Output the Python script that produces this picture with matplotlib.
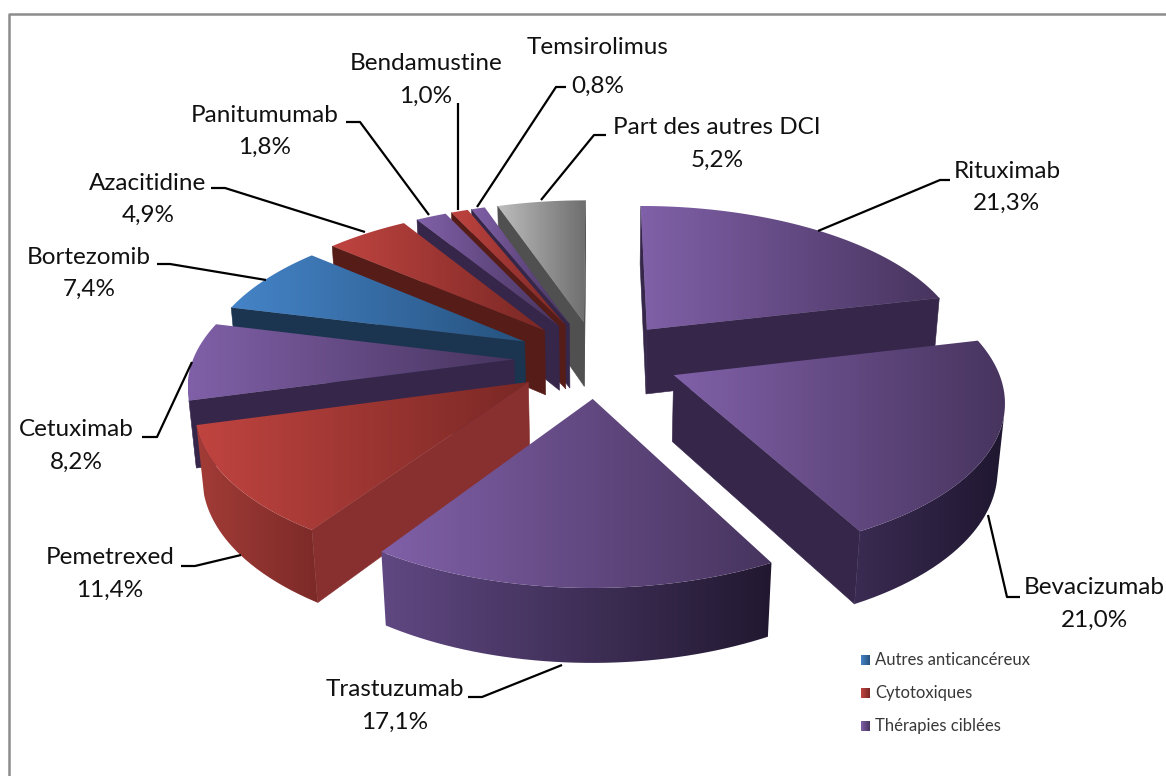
import matplotlib
matplotlib.use('Agg')
import matplotlib.pyplot as plt
import numpy as np
from matplotlib.colors import LinearSegmentedColormap
from matplotlib.patches import PathPatch
from matplotlib.path import Path

drugs = ['Rituximab', 'Bevacizumab', 'Trastuzumab', 'Pemetrexed', 'Cetuximab', 'Bortezomib',
         'Azacitidine', 'Panitumumab', 'Bendamustine', 'Temsirolimus', 'Part des autres DCI']
shares = [21.3, 21.0, 17.1, 11.4, 8.2, 7.4, 4.9, 1.8, 1.0, 0.8, 5.2]
groups = ['cible', 'cible', 'cible', 'cyto', 'cible', 'autre', 'cyto', 'cible', 'cyto', 'cible', 'reste']
legend_names = ['Autres anticancéreux', 'Cytotoxiques', 'Thérapies ciblées']
legend_groups = ['autre', 'cyto', 'cible']

# top light, top dark, wall light, wall dark, cut face
palette = {
    'cible': ('#8060a8', '#47345e', '#604882', '#211830', '#35264a'),
    'cyto': ('#c04440', '#7a2825', '#a33c37', '#7c2a28', '#561c18'),
    'autre': ('#4584c8', '#26527e', '#2a5a88', '#1c3550', '#1b344f'),
    'reste': ('#bdbdbd', '#6e6e6e', '#808080', '#505050', '#505050'),
}
lit_cut = {'Pemetrexed': '#883030'}
wall_override = {'Bevacizumab': ('#3a2b52', '#1f1730')}

# label centre x, name y, value y, then leader points
label_layout = {
    'Rituximab': (1007, 172, 203, [(950, 180), (940, 180), (818, 231)]),
    'Bevacizumab': (1094, 588, 620, [(1020, 597), (1007, 597), (988, 515)]),
    'Trastuzumab': (395, 690, 722, [(468, 697), (482, 697), (562, 665)]),
    'Pemetrexed': (110, 558, 590, [(181, 566), (195, 566), (241, 555)]),
    'Cetuximab': (76, 430, 462, [(142, 437), (157, 437), (192, 362)]),
    'Bortezomib': (89, 257, 289, [(157, 264), (170, 264), (266, 280)]),
    'Azacitidine': (148, 183, 215, [(211, 188), (225, 188), (365, 232)]),
    'Panitumumab': (265, 115, 147, [(346, 122), (360, 122), (429, 215)]),
    'Bendamustine': (426, 64, 96, [(458, 103), (458, 210)]),
    'Temsirolimus': (598, 48, 86, [(566, 87), (556, 87), (477, 207)]),
    'Part des autres DCI': (717, 127, 160, [(606, 135), (594, 135), (541, 200)]),
}

# camera
CX, CY = 597, 359
ELEV = np.radians(27.7)
FOCAL = 1040 / np.tan(ELEV)
DIST = FOCAL / 321
EXPLODE = 0.258
THICK = 0.235


def project(x, y, z):
    w = DIST + y * np.cos(ELEV) - z * np.sin(ELEV)
    u = y * np.sin(ELEV) + z * np.cos(ELEV)
    return np.column_stack([CX + FOCAL * x / w, CY - FOCAL * u / w])


def faces_camera(px, py, nx, ny):
    cam_y = -DIST * np.cos(ELEV)
    return nx * (0 - px) + ny * (cam_y - py) > 0


def grad(ax, xy, c0, c1, z):
    xy = np.asarray(xy)
    cmap = LinearSegmentedColormap.from_list('g', [c0, c1])
    x0, x1 = xy[:, 0].min(), xy[:, 0].max()
    y0, y1 = xy[:, 1].min(), xy[:, 1].max()
    im = ax.imshow(np.linspace(0, 1, 256).reshape(1, -1), cmap=cmap, extent=(x0, x1, y1, y0),
                   aspect='auto', zorder=z, interpolation='bilinear')
    patch = PathPatch(Path(np.vstack([xy, xy[:1]])), transform=ax.transData, fc='none', ec='none')
    ax.add_patch(patch)
    im.set_clip_path(patch)


fig = plt.figure(figsize=(11.66, 7.76), dpi=100)
ax = fig.add_axes([0, 0, 1, 1])
plt.rcParams['font.family'] = ['Lato', 'DejaVu Sans']

fracs = np.array(shares) / sum(shares)
starts = np.concatenate([[0], np.cumsum(fracs)[:-1]]) * 2 * np.pi
ends = np.cumsum(fracs) * 2 * np.pi

# back slices first
order = sorted(range(len(drugs)), key=lambda i: -np.cos((starts[i] + ends[i]) / 2))
z = 2
for i in order:
    a0, a1 = starts[i], ends[i]
    mid = (a0 + a1) / 2
    ox, oy = EXPLODE * np.sin(mid), EXPLODE * np.cos(mid)
    top_l, top_d, wall_l, wall_d, cut = palette[groups[i]]
    wall_l, wall_d = wall_override.get(drugs[i], (wall_l, wall_d))
    th = np.linspace(a0, a1, 120)
    ax_x, ax_y = ox + np.sin(th), oy + np.cos(th)

    # the two cut faces
    for ang, sign in ((a0, -1), (a1, 1)):
        nx, ny = sign * np.cos(ang), -sign * np.sin(ang)
        if faces_camera(ox, oy, nx, ny):
            ex = np.array([ox, ox + np.sin(ang)])
            ey = np.array([oy, oy + np.cos(ang)])
            t = project(ex, ey, 0 * ex)
            b = project(ex, ey, 0 * ex - THICK)
            ax.fill(*np.vstack([t, b[::-1]]).T, color=lit_cut.get(drugs[i], cut), lw=0.4, zorder=z)
            z += 1

    # outer wall, only the part turned to the camera
    vis = faces_camera(ax_x, ax_y, np.sin(th), np.cos(th))
    if vis.sum() > 1:
        t = project(ax_x[vis], ax_y[vis], 0 * th[vis])
        b = project(ax_x[vis], ax_y[vis], 0 * th[vis] - THICK)
        grad(ax, np.vstack([t, b[::-1]]), wall_l, wall_d, z)
        z += 1

    # top
    top = project(np.r_[ox, ax_x], np.r_[oy, ax_y], np.zeros(len(th) + 1))
    grad(ax, top, top_l, top_d, z)
    z += 1

# frame
ax.plot([9, 9, 1166], [776, 14, 14], color='#8c8c8c', lw=1.8, zorder=1)

# labels and leaders
for name, val in zip(drugs, shares):
    xc, y1, y2, pts = label_layout[name]
    ax.text(xc, y1, name, ha='center', va='center', fontsize=17.5, color='#111111', zorder=200)
    ax.text(xc, y2, f'{val:.1f}%'.replace('.', ','), ha='center', va='center', fontsize=17.5,
            color='#111111', zorder=200)
    px, py = zip(*pts)
    ax.plot(px, py, color='black', lw=1.6, zorder=190, solid_capstyle='butt')

# legend
for k, (g, label) in enumerate(zip(legend_groups, legend_names)):
    y = 660 + 33 * k
    sq = [(861, y - 5), (870, y - 5), (870, y + 5), (861, y + 5)]
    grad(ax, sq, palette[g][0], palette[g][1], 200)
    ax.text(875, y, label, ha='left', va='center', fontsize=12, color='#383838', zorder=200)

ax.set_xlim(0, 1166)
ax.set_ylim(776, 0)
ax.axis('off')
fig.savefig('out.png', dpi=100, facecolor='white')
